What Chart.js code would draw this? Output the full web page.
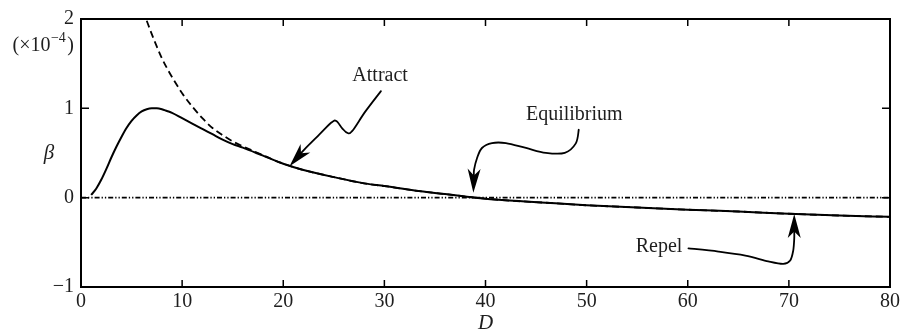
<!DOCTYPE html>
<html><head><meta charset="utf-8">
<script src="https://cdn.jsdelivr.net/npm/chart.js@4.4.0/dist/chart.umd.min.js"></script>
<style>html,body{margin:0;padding:0;background:#fff;} canvas{display:block;}</style>
</head><body>
<canvas id="c" width="903" height="334"></canvas>
<script>
// ---- data ----
const X_TICKS = [0, 10, 20, 30, 40, 50, 60, 70, 80];
const Y_TICKS = [-1, 0, 1, 2];
const X_INNER_TICKS = [10, 20, 30, 40, 50, 60, 70];
const Y_INNER_TICKS = [0, 1];

const D_SOLID = [1, 1.5, 2, 2.5, 3, 3.5, 4, 4.5, 5, 5.5, 6, 6.5, 7, 7.5, 8, 8.5, 9, 10, 11, 12, 13, 14, 15, 16, 18, 20, 22, 25, 28, 30, 33, 36, 39, 42, 45, 50, 55, 60, 65, 70, 75, 80];
const BETA_SOLID = [0.03, 0.10, 0.20, 0.32, 0.45, 0.57, 0.68, 0.78, 0.86, 0.92, 0.965, 0.99, 1.0, 1.0, 0.99, 0.97, 0.95, 0.89, 0.83, 0.77, 0.71, 0.65, 0.60, 0.56, 0.47, 0.38, 0.31, 0.23, 0.16, 0.13, 0.08, 0.04, 0.0, -0.03, -0.05, -0.085, -0.11, -0.135, -0.155, -0.18, -0.20, -0.215];

const D_DASHED = [6.5, 7, 7.5, 8, 8.5, 9, 10, 11, 12, 13, 14, 15, 16, 18, 20, 22, 25, 28, 30, 33, 36, 39, 42, 45, 50, 55, 60, 65, 70, 75, 80];
const BETA_DASHED = [1.98, 1.83, 1.69, 1.56, 1.45, 1.35, 1.17, 1.02, 0.89, 0.78, 0.70, 0.63, 0.575, 0.475, 0.38, 0.31, 0.23, 0.16, 0.13, 0.08, 0.04, 0.0, -0.03, -0.05, -0.085, -0.11, -0.135, -0.155, -0.18, -0.20, -0.215];

const D_ZERO = [0, 80];
const BETA_ZERO = [0, 0];

// annotation arrows: path points in data units [D, beta], last one is the arrow tip
const ATTRACT_PATH = [[29.66, 1.193], [28.11, 0.963], [26.83, 0.747], [26.34, 0.724], [25.85, 0.774], [25.25, 0.858], [24.76, 0.841], [23.58, 0.708], [22.10, 0.541], [20.62, 0.352]];
const EQUIL_PATH = [[49.22, 0.760], [48.93, 0.608], [47.84, 0.502], [45.97, 0.502], [44.00, 0.556], [42.02, 0.611], [40.64, 0.611], [39.65, 0.556], [39.16, 0.441], [38.87, 0.313], [38.80, 0.056]];
const REPEL_PATH = [[60.07, -0.567], [63.03, -0.603], [65.70, -0.648], [67.96, -0.714], [69.44, -0.742], [70.13, -0.703], [70.43, -0.592], [70.53, -0.459], [70.53, -0.184]];
const LABELS = [
  { text: 'Attract', d: 26.83, b: 1.308 },
  { text: 'Equilibrium', d: 44.0, b: 0.874 },
  { text: 'Repel', d: 54.85, b: -0.611 }
];

const FONT = '"Liberation Serif", "DejaVu Serif", serif';
const TEXT_COLOR = '#1e1e1e';

const toXY = (xs, ys) => xs.map((x, i) => ({ x: x, y: ys[i] }));

function strokeSmooth(ctx, pts) {
  ctx.beginPath();
  ctx.moveTo(pts[0][0], pts[0][1]);
  for (let i = 0; i < pts.length - 1; i++) {
    const p0 = pts[i - 1] || pts[i];
    const p1 = pts[i];
    const p2 = pts[i + 1];
    const p3 = pts[i + 2] || p2;
    const c1x = p1[0] + (p2[0] - p0[0]) / 6, c1y = p1[1] + (p2[1] - p0[1]) / 6;
    const c2x = p2[0] - (p3[0] - p1[0]) / 6, c2y = p2[1] - (p3[1] - p1[1]) / 6;
    ctx.bezierCurveTo(c1x, c1y, c2x, c2y, p2[0], p2[1]);
  }
  ctx.stroke();
}

function drawArrow(ctx, xs, ys, path) {
  const pts = path.map(p => [xs.getPixelForValue(p[0]), ys.getPixelForValue(p[1])]);
  const tip = pts[pts.length - 1];
  const from = pts[pts.length - 2];
  let dx = tip[0] - from[0], dy = tip[1] - from[1];
  const L = Math.hypot(dx, dy); dx /= L; dy /= L;
  const len = 24, half = 6.5;
  const bx = tip[0] - dx * len, by = tip[1] - dy * len;
  const nx = tip[0] - dx * len * 0.72, ny = tip[1] - dy * len * 0.72;
  const px = -dy, py = dx;
  ctx.save();
  ctx.strokeStyle = '#000';
  ctx.fillStyle = '#000';
  ctx.lineWidth = 1.8;
  ctx.lineCap = 'round';
  ctx.lineJoin = 'round';
  const body = pts.slice(0, pts.length - 1);
  body.push([nx, ny]);
  strokeSmooth(ctx, body);
  ctx.beginPath();
  ctx.moveTo(tip[0], tip[1]);
  ctx.lineTo(bx + px * half, by + py * half);
  ctx.lineTo(nx, ny);
  ctx.lineTo(bx - px * half, by - py * half);
  ctx.closePath();
  ctx.fill();
  ctx.restore();
}

const decorPlugin = {
  id: 'decor',
  afterDatasetsDraw(chart) {
    const ctx = chart.ctx;
    const a = chart.chartArea;
    const xs = chart.scales.x, ys = chart.scales.y;
    ctx.save();
    // frame
    ctx.strokeStyle = '#000';
    ctx.lineWidth = 2;
    ctx.strokeRect(a.left, a.top, a.right - a.left, a.bottom - a.top);
    // inward ticks
    ctx.lineWidth = 1.5;
    ctx.beginPath();
    X_INNER_TICKS.forEach(v => {
      const x = xs.getPixelForValue(v);
      ctx.moveTo(x, a.bottom); ctx.lineTo(x, a.bottom - 7);
      ctx.moveTo(x, a.top); ctx.lineTo(x, a.top + 7);
    });
    Y_INNER_TICKS.forEach(v => {
      const y = ys.getPixelForValue(v);
      ctx.moveTo(a.left, y); ctx.lineTo(a.left + 8, y);
      ctx.moveTo(a.right, y); ctx.lineTo(a.right - 8, y);
    });
    ctx.stroke();

    // arrows
    drawArrow(ctx, xs, ys, ATTRACT_PATH);
    drawArrow(ctx, xs, ys, EQUIL_PATH);
    drawArrow(ctx, xs, ys, REPEL_PATH);

    // annotation labels
    ctx.fillStyle = TEXT_COLOR;
    ctx.font = '20px ' + FONT;
    ctx.textAlign = 'left';
    ctx.textBaseline = 'alphabetic';
    LABELS.forEach(l => ctx.fillText(l.text, xs.getPixelForValue(l.d), ys.getPixelForValue(l.b)));

    // axis titles
    ctx.font = 'italic 21px ' + FONT;
    ctx.textAlign = 'center';
    ctx.textBaseline = 'middle';
    ctx.fillText('D', (a.left + a.right) / 2, a.bottom + 36);
    ctx.fillText('β', a.left - 32, ys.getPixelForValue(0.5));

    // exponent label (×10^-4), right-aligned with tick labels
    const yMid = ys.getPixelForValue(1.70);
    const big = '20px ' + FONT, small = '14px ' + FONT;
    ctx.textAlign = 'left';
    ctx.textBaseline = 'middle';
    ctx.font = big; const w1 = ctx.measureText('(×10').width; const w3 = ctx.measureText(')').width;
    ctx.font = small; const w2 = ctx.measureText('−4').width;
    let x0 = a.left - 7 - (w1 + w2 + w3 + 2);
    ctx.font = big; ctx.fillText('(×10', x0, yMid);
    ctx.font = small; ctx.fillText('−4', x0 + w1 + 0.5, yMid - 7);
    ctx.font = big; ctx.fillText(')', x0 + w1 + w2 + 2, yMid);
    ctx.restore();
  }
};

new Chart(document.getElementById('c'), {
  type: 'line',
  data: {
    datasets: [
      {
        data: toXY(D_SOLID, BETA_SOLID),
        borderColor: '#000', borderWidth: 2, pointRadius: 0,
        cubicInterpolationMode: 'monotone', fill: false, order: 0
      },
      {
        data: toXY(D_DASHED, BETA_DASHED),
        borderColor: '#000', borderWidth: 1.8, borderDash: [7, 4], pointRadius: 0,
        cubicInterpolationMode: 'monotone', fill: false, order: 1
      },
      {
        data: toXY(D_ZERO, BETA_ZERO),
        borderColor: '#000', borderWidth: 1.6, borderDash: [5, 2, 1.3, 2, 1.3, 2], pointRadius: 0,
        fill: false, order: 2
      }
    ]
  },
  options: {
    responsive: false,
    animation: false,
    devicePixelRatio: 1,
    layout: { padding: { top: 17, right: 11, left: 0, bottom: 0 } },
    plugins: { legend: { display: false }, tooltip: { enabled: false } },
    scales: {
      x: {
        type: 'linear', min: 0, max: 80,
        afterBuildTicks: s => { s.ticks = X_TICKS.map(v => ({ value: v })); },
        grid: { display: false, drawTicks: false },
        border: { display: false },
        ticks: { color: TEXT_COLOR, font: { family: FONT, size: 20 }, padding: 3, maxRotation: 0, autoSkip: false },
        afterFit: s => { s.height = 47; }
      },
      y: {
        type: 'linear', min: -1, max: 2,
        afterBuildTicks: s => { s.ticks = Y_TICKS.map(v => ({ value: v })); },
        grid: { display: false, drawTicks: false },
        border: { display: false },
        ticks: { color: TEXT_COLOR, font: { family: FONT, size: 20 }, padding: 7,
          callback: v => (v < 0 ? '−' + Math.abs(v) : String(v)) },
        afterFit: s => { s.width = 81; }
      }
    }
  },
  plugins: [decorPlugin]
});
</script>
</body></html>
